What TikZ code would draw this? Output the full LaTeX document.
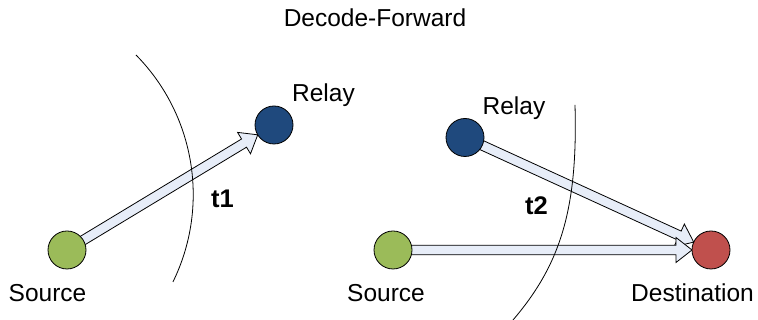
\documentclass[tikz,border=0pt]{standalone}
\usepackage{fontspec}
\setmainfont{Liberation Sans}
\usetikzlibrary{calc,backgrounds}

\definecolor{srcgreen}{HTML}{9BBB59}
\definecolor{relayblue}{HTML}{1F497D}
\definecolor{dstred}{HTML}{C0504D}
\definecolor{linkfill}{HTML}{E7EDF8}

\tikzset{
  station/.style={circle, draw=black, line width=0.8pt, minimum size=38pt, inner sep=0pt},
  label text/.style={anchor=base, inner sep=0pt, font=\fontsize{24.5}{28}\selectfont},
  slot text/.style={anchor=base, inner sep=0pt, font=\fontsize{25.5}{28}\selectfont\bfseries},
  fatarrow/.style={draw=black, line width=0.8pt, fill=linkfill, line join=miter},
  range arc/.style={draw=black, line width=0.8pt}
}

% Block arrow from the centre of #1 to the border of #2 (radius 19pt)
\newcommand{\fatlink}[2]{%
  \path ($(#2.center)!19pt!(#1.center)$) coordinate (tip)
        ($(tip)!16pt!(#1.center)$) coordinate (hbase);
  \draw[fatarrow]
    ($(#1.center)!4.8pt!90:(#2.center)$) --
    ($(hbase)!4.8pt!90:(tip)$) --
    ($(hbase)!12.5pt!90:(tip)$) --
    (tip) --
    ($(hbase)!12.5pt!-90:(tip)$) --
    ($(hbase)!4.8pt!-90:(tip)$) --
    ($(#1.center)!4.8pt!-90:(#2.center)$) -- cycle;
}

\begin{document}
\begin{tikzpicture}[x=1pt,y=1pt]
  \useasboundingbox (0,0) rectangle (758,320);

  % title
  \node[label text] (title) at (375,293) {Decode-Forward};

  % first slot: source to relay
  \node[station, fill=srcgreen]   (s1) at (67,70) {};
  \node[station, fill=relayblue]  (r1) at (274,195) {};
  \node[label text] (s1lab) at (47.5,18) {Source};
  \node[label text] (r1lab) at (323.5,218) {Relay};
  \node[slot text]  (t1) at (222.5,112) {t1};

  % second slot: source and relay to destination
  \node[station, fill=srcgreen]   (s2) at (393,70) {};
  \node[station, fill=relayblue]  (r2) at (465,182.5) {};
  \node[station, fill=dstred]     (d)  at (711,70) {};
  \node[label text] (s2lab) at (386,18) {Source};
  \node[label text] (r2lab) at (514,205) {Relay};
  \node[label text] (dlab)  at (692.5,18) {Destination};
  \node[slot text]  (t2) at (536.5,105) {t2};

  \begin{scope}[on background layer]
    \fatlink{s1}{r1}
    \fatlink{r2}{d}
    \fatlink{s2}{d}
  \end{scope}

  % coverage boundaries of the two slots
  \draw[range arc] (136,265) arc[start angle=44.6, end angle=-26.1, radius=198.7pt];
  \draw[range arc] (575,215) .. controls (578,110) and (560,55) .. (513,0);
\end{tikzpicture}
\end{document}
